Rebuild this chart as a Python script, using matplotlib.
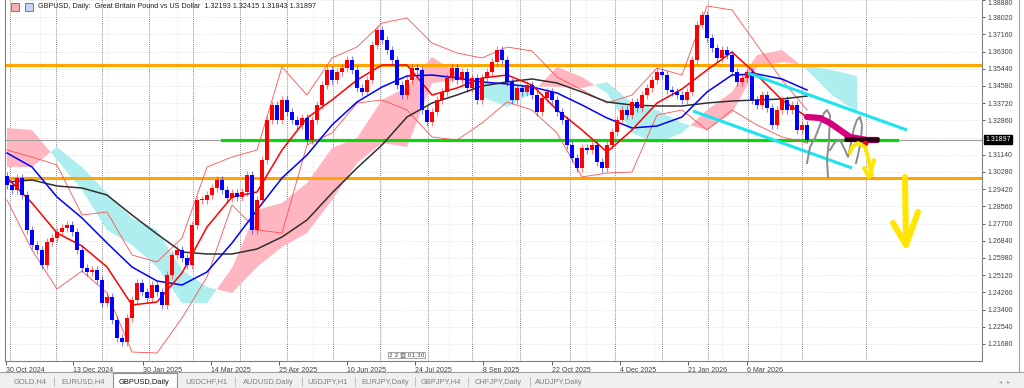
"""GBPUSD daily chart (MT4 style) with hand-drawn analysis marks."""

import matplotlib
matplotlib.use("Agg")
import matplotlib.pyplot as plt
from matplotlib.lines import Line2D
from matplotlib.patches import Rectangle

W, H = 1024, 388

# ---------------------------------------------------------------------------
# Data (one candle per ~2 sessions)
# ---------------------------------------------------------------------------
FIRST_OPEN = 1.3010
CLOSES = [
    1.2963, 1.2938, 1.2998, 1.2913, 1.2738, 1.2663, 1.2638, 1.2563, 1.2678, 1.2698,
    1.2728, 1.2748, 1.2763, 1.2728, 1.2638, 1.2548, 1.2528, 1.2538, 1.2488, 1.2373,
    1.2403, 1.2288, 1.2198, 1.2178, 1.2298, 1.2388, 1.2473, 1.2428, 1.2398, 1.2463,
    1.2428, 1.2363, 1.2513, 1.2613, 1.2638, 1.2598, 1.2563, 1.2763, 1.2888, 1.2888,
    1.2913, 1.2948, 1.2988, 1.2938, 1.2898, 1.2923, 1.2903, 1.2928, 1.3013, 1.2738,
    1.2888, 1.3088, 1.3288, 1.3363, 1.3288, 1.3388, 1.3328, 1.3288, 1.3263, 1.3298,
    1.3188, 1.3288, 1.3363, 1.3463, 1.3538, 1.3488, 1.3528, 1.3548, 1.3588, 1.3538,
    1.3448, 1.3428, 1.3488, 1.3663, 1.3738, 1.3688, 1.3638, 1.3588, 1.3463, 1.3413,
    1.3488, 1.3548, 1.3538, 1.3338, 1.3278, 1.3328, 1.3388, 1.3428, 1.3498, 1.3548,
    1.3488, 1.3528, 1.3448, 1.3498, 1.3388, 1.3498, 1.3528, 1.3578, 1.3638, 1.3588,
    1.3478, 1.3388, 1.3448, 1.3428, 1.3463, 1.3413, 1.3328, 1.3398, 1.3428, 1.3388,
    1.3328, 1.3288, 1.3163, 1.3098, 1.3048, 1.3148, 1.3138, 1.3163, 1.3078, 1.3048,
    1.3163, 1.3228, 1.3288, 1.3338, 1.3313, 1.3378, 1.3348, 1.3413, 1.3448, 1.3488,
    1.3528, 1.3513, 1.3438, 1.3428, 1.3413, 1.3388, 1.3428, 1.3588, 1.3763, 1.3813,
    1.3698, 1.3648, 1.3598, 1.3638, 1.3613, 1.3528, 1.3478, 1.3498, 1.3528, 1.3388,
    1.3363, 1.3413, 1.3348, 1.3263, 1.3338, 1.3388, 1.3338, 1.3363, 1.3238, 1.3263,
    1.3190,
]

# indicator samples, one every 5 candles
MA_X = list(range(0, 161, 5))
MA_FAST = [1.3000, 1.2873, 1.2723, 1.2658, 1.2553, 1.2363, 1.2378, 1.2523, 1.2753, 1.2903,
           1.2928, 1.3138, 1.3298, 1.3388, 1.3488, 1.3563, 1.3563, 1.3413, 1.3448, 1.3498,
           1.3513, 1.3463, 1.3338, 1.3238, 1.3128, 1.3238, 1.3373, 1.3443, 1.3538, 1.3628,
           1.3513, 1.3388, 1.3303]
MA_MID = [1.3123, 1.3053, 1.2903, 1.2798, 1.2673, 1.2553, 1.2483, 1.2463, 1.2528, 1.2673,
          1.2838, 1.2998, 1.3113, 1.3263, 1.3378, 1.3453, 1.3508, 1.3513, 1.3498, 1.3478,
          1.3468, 1.3453, 1.3423, 1.3363, 1.3298, 1.3248, 1.3258, 1.3303, 1.3428, 1.3513,
          1.3518, 1.3493, 1.3438]
MA_SLOW = [1.2978, 1.2988, 1.2958, 1.2948, 1.2913, 1.2813, 1.2718, 1.2628, 1.2618, 1.2618,
           1.2643, 1.2703, 1.2788, 1.2923, 1.3048, 1.3163, 1.3303, 1.3373, 1.3413, 1.3458,
           1.3478, 1.3493, 1.3473, 1.3428, 1.3378, 1.3363, 1.3358, 1.3358, 1.3373, 1.3383,
           1.3388, 1.3393, 1.3408]
BB_UPPER = [1.3138, 1.3103, 1.3063, 1.2813, 1.2828, 1.2613, 1.2578, 1.2698, 1.3053, 1.3103,
            1.3138, 1.3553, 1.3413, 1.3598, 1.3653, 1.3773, 1.3798, 1.3673, 1.3623, 1.3598,
            1.3653, 1.3633, 1.3503, 1.3438, 1.3373, 1.3413, 1.3548, 1.3513, 1.3858, 1.3838,
            1.3663, 1.3488, 1.3338]
BB_LOWER = [1.2888, 1.2638, 1.2443, 1.2533, 1.2423, 1.2128, 1.2123, 1.2298, 1.2503, 1.2863,
            1.2738, 1.2723, 1.3163, 1.3223, 1.3373, 1.3388, 1.3338, 1.3203, 1.3188, 1.3273,
            1.3378, 1.3338, 1.3223, 1.3003, 1.3023, 1.3028, 1.3313, 1.3338, 1.3238, 1.3338,
            1.3263, 1.3203, 1.3173]

# ichimoku cloud (shifted 26 sessions ahead)
CLOUD_X = list(range(0, 171, 5))
SPAN_A = [1.3248, 1.3238, 1.3088, 1.2938, 1.2738, 1.2663, 1.2553, 1.2373, 1.2373, 1.2548,
          1.2838, 1.2873, 1.2973, 1.3148, 1.3198, 1.3388, 1.3453, 1.3603, 1.3523, 1.3403,
          1.3353, 1.3423, 1.3553, 1.3503, 1.3423, 1.3223, 1.3173, 1.3223, 1.3338, 1.3428,
          1.3613, 1.3638, 1.3538, 1.3413, 1.3328]
SPAN_B = [1.3053, 1.3053, 1.3153, 1.3053, 1.2923, 1.2798, 1.2738, 1.2538, 1.2453, 1.2423,
          1.2553, 1.2653, 1.2723, 1.2888, 1.3073, 1.3173, 1.3153, 1.3473, 1.3488, 1.3473,
          1.3463, 1.3458, 1.3453, 1.3448, 1.3478, 1.3373, 1.3338, 1.3273, 1.3238, 1.3323,
          1.3553, 1.3578, 1.3563, 1.3538, 1.3508]

# horizontal levels
LEVEL_UPPER = 1.3563
LEVEL_LOWER = 1.2998
LEVEL_GREEN = 1.3188
LAST_PRICE = 1.31897

# hand-drawn marks (candle index, price)
CHANNEL_UP = ([148.2, 180.0], [1.3523, 1.3238])
CHANNEL_DN = ([137.2, 169.0], [1.3333, 1.3048])
GREEN_SPAN = [43.0, 178.0]
PINK_PATH = ([160.0, 162.6, 164.6, 166.6, 168.6, 172.0, 174.0],
             [1.3303, 1.3298, 1.3273, 1.3238, 1.3203, 1.3188, 1.3188])
DARK_PATH = ([168.0, 174.0], [1.3190, 1.3188])
GRAY_PATH_1 = ([160.0, 160.6, 161.6, 162.6, 163.4, 164.0, 164.6, 164.4, 164.0, 164.2],
               [1.3073, 1.3153, 1.3198, 1.3263, 1.3323, 1.3338, 1.3313, 1.3188, 1.3088, 1.3003])
GRAY_PATH_2 = ([164.6, 165.6, 166.6, 167.6, 168.2, 168.8, 169.4, 170.0, 170.6, 171.0, 170.8, 170.2, 169.8],
               [1.3138, 1.3178, 1.3188, 1.3138, 1.3103, 1.3173, 1.3248, 1.3288, 1.3303, 1.3263,
                1.3188, 1.3113, 1.3073])
YELLOW_HOOK = ([168.6, 169.0, 170.2, 171.6, 172.2, 172.6, 173.0],
               [1.3123, 1.3153, 1.3173, 1.3153, 1.3103, 1.3048, 1.3013])
YELLOW_HOOK_HEAD = ([171.4, 172.4, 173.4], [1.3048, 1.3003, 1.3088])
BIG_ARROW = ([179.6, 179.8], [1.3003, 1.2663])
BIG_ARROW_HEAD = ([177.2, 179.8, 182.2], [1.2773, 1.2663, 1.2828])
RED_DOT = (171.6, 1.3173)

PRICE_LABELS = ["1.21680", "1.22540", "1.23400", "1.24260", "1.25120", "1.25980", "1.26840",
                "1.27700", "1.28560", "1.29420", "1.30280", "1.31140", "1.32860",
                "1.33720", "1.34580", "1.35440", "1.36300", "1.37160", "1.38020", "1.38880"]
GRID_PRICES = [float(p) for p in PRICE_LABELS] + [1.32000]

DATE_LABELS = ["30 Oct 2024", "13 Dec 2024", "30 Jan 2025", "14 Mar 2025", "25 Apr 2025",
               "10 Jun 2025", "24 Jul 2025", "8 Sep 2025", "22 Oct 2025", "4 Dec 2025",
               "21 Jan 2026", "6 Mar 2026"]
DATE_POS = [-0.2, 13.2, 27.2, 40.8, 54.4, 68.0, 81.6, 95.2, 109.0, 122.6, 136.2, 148.0]
SEPARATORS = [0.6, 9.8, 19.0, 28.4, 37.2, 46.6, 56.0, 65.2, 74.6, 84.2, 93.0, 102.6,
              112.6, 121.6, 131.0, 140.2, 148.2, 159.0, 171.8]

TITLE = "GBPUSD, Daily:  Great Britain Pound vs US Dollar  1.32193 1.32415 1.31843 1.31897"
TAB_NAMES = ["GOLD,H4", "EURUSD,H4", "GBPUSD,Daily", "USDCHF,H1", "AUDUSD,Daily",
             "USDJPY,H1", "EURJPY,Daily", "GBPJPY,H4", "CHFJPY,Daily", "AUDJPY,Daily"]
TAB_X = [30, 83, 144, 206, 268, 328, 385, 441, 498, 559]
TAB_SEPS = [54, 235, 302, 355, 415, 468, 530]
ACTIVE_TAB = 2

BULL = "#FF0000"
BEAR = "#0000FF"
FONT = "Liberation Sans"


def fx(px):
    return px / W


def fy(py):
    return 1 - py / H


fig = plt.figure(figsize=(W / 100, H / 100), dpi=100)
fig.patch.set_facecolor("white")
ax = fig.add_axes([fx(5), fy(361), fx(982) - fx(5), fy(0) - fy(361)])
ax.set_xlim(-0.4, 195)
ax.set_ylim(1.2083, 1.3888)

# grid + period separators
for p in GRID_PRICES:
    ax.axhline(p, color="#D0D0D0", lw=0.5, ls=(0, (1, 2)), zorder=0)
for d in DATE_POS:
    ax.axvline(d + 6.8, color="#D0D0D0", lw=0.5, ls=(0, (1, 2)), zorder=0)
for s in SEPARATORS:
    ax.axvline(s, color="#606060", lw=0.6, ls=(0, (1, 1.5)), zorder=0)

# ichimoku cloud
ax.fill_between(CLOUD_X, SPAN_A, SPAN_B,
                where=[a >= b for a, b in zip(SPAN_A, SPAN_B)],
                interpolate=True, color="#FFB6C1", lw=0, zorder=1)
ax.fill_between(CLOUD_X, SPAN_A, SPAN_B,
                where=[a <= b for a, b in zip(SPAN_A, SPAN_B)],
                interpolate=True, color="#AFEEEE", lw=0, zorder=1)

# levels
ax.axhline(LEVEL_UPPER, color="#FFA500", lw=2.2, zorder=1.5)
ax.axhline(LEVEL_LOWER, color="#FFA500", lw=2.2, zorder=1.5)
ax.axhline(LAST_PRICE, color="#A0A0A0", lw=0.8, zorder=1.5)
ax.plot(GREEN_SPAN, [LEVEL_GREEN, LEVEL_GREEN], color="#00DD00", lw=2.2, zorder=1.6)

# bollinger + moving averages
ax.plot(MA_X, BB_UPPER, color="#FF5050", lw=0.6, zorder=2)
ax.plot(MA_X, BB_LOWER, color="#FF5050", lw=0.6, zorder=2)
ax.plot(MA_X, MA_SLOW, color="#303030", lw=1.1, zorder=2.2)
ax.plot(MA_X, MA_MID, color="#0000FF", lw=1.1, zorder=2.2)
ax.plot(MA_X, MA_FAST, color="#FF0000", lw=1.1, zorder=2.2)

# candles
opens = [FIRST_OPEN] + CLOSES[:-1]
wick = 0.0018
for i, (o, c) in enumerate(zip(opens, CLOSES)):
    col = BULL if c >= o else BEAR
    lo, hi = min(o, c), max(o, c)
    ax.vlines(i, lo - wick, hi + wick, color=col, lw=0.8, alpha=0.5, zorder=2.5)
    ax.bar(i, max(hi - lo, 0.0004), bottom=lo, width=0.68, color=col, lw=0, zorder=2.6)

# hand-drawn marks
ax.plot(*CHANNEL_UP, color="#1EE3F0", lw=2.2, solid_capstyle="butt", zorder=3)
ax.plot(*CHANNEL_DN, color="#1EE3F0", lw=2.2, solid_capstyle="butt", zorder=3)
ax.plot(*GRAY_PATH_1, color="#8C8C8C", lw=1.4, zorder=3.1)
ax.plot(*GRAY_PATH_2, color="#8C8C8C", lw=1.4, zorder=3.1)
ax.plot(*PINK_PATH, color="#D6007F", lw=4.5, solid_capstyle="round", zorder=3.2)
ax.plot(*DARK_PATH, color="#2A0010", lw=3.5, zorder=3.3)
ax.plot(*RED_DOT, "o", color="#FF0000", ms=3, zorder=3.4)
ax.plot(*YELLOW_HOOK, color="#FFE600", lw=2.8, solid_capstyle="round", zorder=3.5)
ax.plot(*YELLOW_HOOK_HEAD, color="#FFE600", lw=2.8, solid_capstyle="round", zorder=3.5)
ax.plot(*BIG_ARROW, color="#FFE600", lw=4.3, solid_capstyle="round", zorder=3.5)
ax.plot(*BIG_ARROW_HEAD, color="#FFE600", lw=4.3, solid_capstyle="round",
        solid_joinstyle="round", zorder=3.5)

# axes styling
for side in ("left", "bottom", "right"):
    ax.spines[side].set_color("#808080")
    ax.spines[side].set_linewidth(0.8)
ax.spines["top"].set_visible(False)
ax.yaxis.tick_right()
ax.set_yticks([float(p) for p in PRICE_LABELS])
ylabels = ax.set_yticklabels(PRICE_LABELS, fontsize=5, family=FONT, color="#202020")
ylabels[-1].set_va("top")  # top label sits at the very edge of the window
ax.tick_params(axis="y", direction="out", length=2.5, width=0.6, pad=1.5, colors="#404040")
ax.set_xticks(DATE_POS)
ax.set_xticklabels(DATE_LABELS, fontsize=5, family=FONT, color="#202020", ha="left")
ax.tick_params(axis="x", direction="out", length=3, width=0.6, pad=1.2, colors="#404040")

ax.annotate("1.31897", xy=(1.0, LAST_PRICE), xycoords=("axes fraction", "data"),
            xytext=(2.5, 0), textcoords="offset points", va="center", ha="left",
            fontsize=5, family=FONT, color="white",
            bbox=dict(boxstyle="square,pad=0.15", fc="black", ec="black"))

# title + icons
fig.text(fx(38), fy(7), TITLE, fontsize=5.2, family=FONT, color="#202020", va="center")
fig.add_artist(Rectangle((fx(11), fy(11)), 8 / W, 8 / H, fc="#F4B0B0", ec="#D04040", lw=0.6))
fig.add_artist(Rectangle((fx(25), fy(11)), 8 / W, 8 / H, fc="#C0D8F0", ec="#3070C0", lw=0.6))

# countdown box
fig.text(fx(389), fy(355), "2 2 \u25a5 01:30", fontsize=4.2, family="DejaVu Sans",
         color="#404040", va="center",
         bbox=dict(boxstyle="square,pad=0.15", fc="white", ec="#808080", lw=0.5))

# window border right of the price scale
fig.add_artist(Line2D([fx(1019), fx(1019)], [fy(0), fy(372)], color="#A0A0A0", lw=0.8))

# tab bar
fig.add_artist(Rectangle((0, 0), 1, 16 / H, fc="#F0F0F0", ec="none"))
fig.add_artist(Line2D([0, 1], [fy(372), fy(372)], color="#A0A0A0", lw=0.8))
fig.add_artist(Rectangle((fx(113), 0), 64 / W, 15 / H, fc="white", ec="#909090", lw=0.8))
for i, (name, x) in enumerate(zip(TAB_NAMES, TAB_X)):
    fig.text(fx(x), fy(382), name, fontsize=5.4, family=FONT, ha="center", va="center",
             color="#101010" if i == ACTIVE_TAB else "#7F7F7F")
for s in TAB_SEPS:
    fig.add_artist(Line2D([fx(s), fx(s)], [fy(386), fy(377)], color="#C0C0C0", lw=0.7))
fig.text(fx(1001), fy(382), "\u25c2", fontsize=4.5, color="#A0A0A0", ha="center", va="center")
fig.text(fx(1009), fy(382), "\u25b8", fontsize=4.5, color="#A0A0A0", ha="center", va="center")

fig.savefig("out.png", dpi=100)
plt.close(fig)
